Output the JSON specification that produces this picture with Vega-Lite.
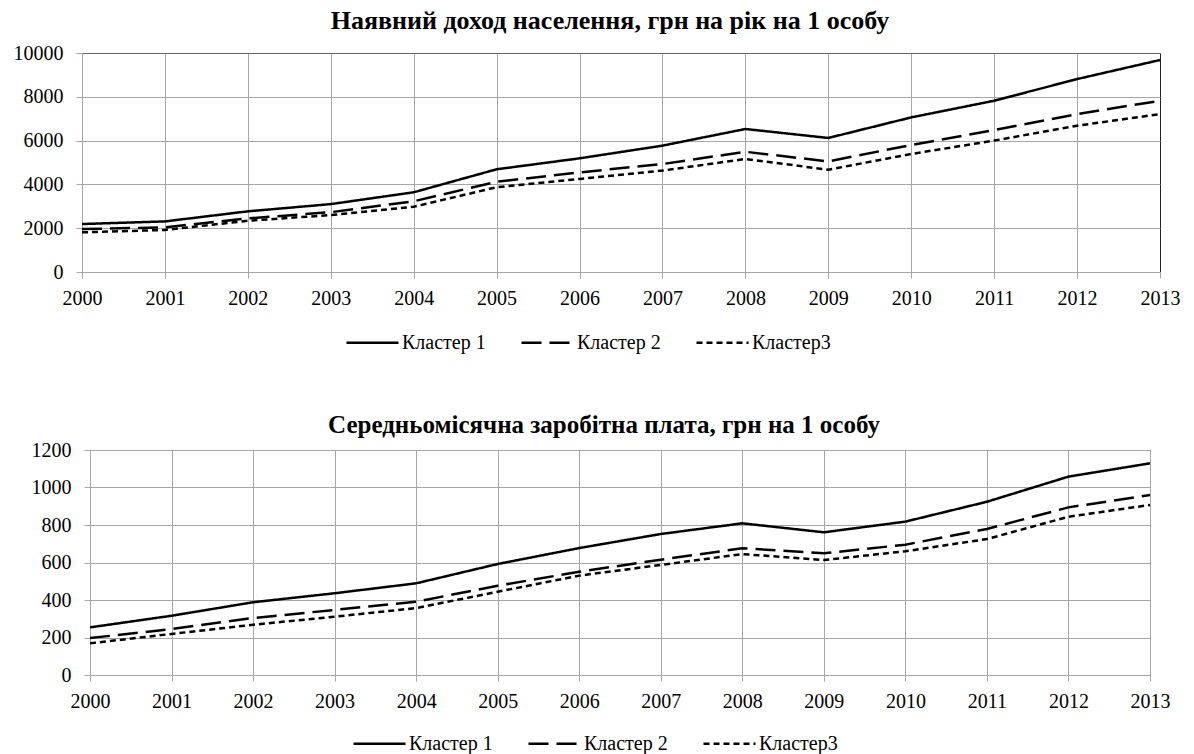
{
  "$schema": "https://vega.github.io/schema/vega-lite/v6.json",
  "background": "white",
  "padding": {"left": 12, "top": 8, "right": 10, "bottom": 0},
  "spacing": 59,
  "columns": 1,
  "align": "none",
  "bounds": "full",
  "resolve": {"scale": {"strokeDash": "independent"}, "legend": {"strokeDash": "independent"}},
  "config": {
    "font": "Liberation Serif",
    "view": {"stroke": "#555555", "strokeWidth": 1},
    "axis": {
      "labelFont": "Liberation Serif",
      "labelFontSize": 20,
      "labelColor": "#000000",
      "gridColor": "#a6a6a6",
      "gridWidth": 1,
      "gridOpacity": 1,
      "domainColor": "#a6a6a6",
      "tickColor": "#a6a6a6",
      "tickSize": 6,
      "title": null
    },
    "title": {"font": "Liberation Serif", "fontSize": 26, "fontWeight": "bold", "color": "#000000", "anchor": "middle"},
    "legend": {
      "labelFont": "Liberation Serif",
      "labelFontSize": 20,
      "labelColor": "#000000",
      "symbolType": "stroke",
      "symbolSize": 2704,
      "symbolStrokeWidth": 2.5,
      "symbolStrokeColor": "#000000",
      "labelOffset": 2,
      "columnPadding": 30,
      "title": null
    }
  },
  "datasets": {
    "income": [
      {"year": 2000, "cluster": "Кластер 1", "value": 2190},
      {"year": 2001, "cluster": "Кластер 1", "value": 2310},
      {"year": 2002, "cluster": "Кластер 1", "value": 2770},
      {"year": 2003, "cluster": "Кластер 1", "value": 3100},
      {"year": 2004, "cluster": "Кластер 1", "value": 3640},
      {"year": 2005, "cluster": "Кластер 1", "value": 4690},
      {"year": 2006, "cluster": "Кластер 1", "value": 5190},
      {"year": 2007, "cluster": "Кластер 1", "value": 5770},
      {"year": 2008, "cluster": "Кластер 1", "value": 6530},
      {"year": 2009, "cluster": "Кластер 1", "value": 6120},
      {"year": 2010, "cluster": "Кластер 1", "value": 7060},
      {"year": 2011, "cluster": "Кластер 1", "value": 7820},
      {"year": 2012, "cluster": "Кластер 1", "value": 8810},
      {"year": 2013, "cluster": "Кластер 1", "value": 9680},
      {"year": 2000, "cluster": "Кластер 2", "value": 1960},
      {"year": 2001, "cluster": "Кластер 2", "value": 2040},
      {"year": 2002, "cluster": "Кластер 2", "value": 2450},
      {"year": 2003, "cluster": "Кластер 2", "value": 2730},
      {"year": 2004, "cluster": "Кластер 2", "value": 3230},
      {"year": 2005, "cluster": "Кластер 2", "value": 4120},
      {"year": 2006, "cluster": "Кластер 2", "value": 4550},
      {"year": 2007, "cluster": "Кластер 2", "value": 4930},
      {"year": 2008, "cluster": "Кластер 2", "value": 5490},
      {"year": 2009, "cluster": "Кластер 2", "value": 5050},
      {"year": 2010, "cluster": "Кластер 2", "value": 5800},
      {"year": 2011, "cluster": "Кластер 2", "value": 6480},
      {"year": 2012, "cluster": "Кластер 2", "value": 7210},
      {"year": 2013, "cluster": "Кластер 2", "value": 7820},
      {"year": 2000, "cluster": "Кластер3", "value": 1810},
      {"year": 2001, "cluster": "Кластер3", "value": 1920},
      {"year": 2002, "cluster": "Кластер3", "value": 2340},
      {"year": 2003, "cluster": "Кластер3", "value": 2600},
      {"year": 2004, "cluster": "Кластер3", "value": 2980},
      {"year": 2005, "cluster": "Кластер3", "value": 3870},
      {"year": 2006, "cluster": "Кластер3", "value": 4250},
      {"year": 2007, "cluster": "Кластер3", "value": 4630},
      {"year": 2008, "cluster": "Кластер3", "value": 5160},
      {"year": 2009, "cluster": "Кластер3", "value": 4670},
      {"year": 2010, "cluster": "Кластер3", "value": 5390},
      {"year": 2011, "cluster": "Кластер3", "value": 6000},
      {"year": 2012, "cluster": "Кластер3", "value": 6680},
      {"year": 2013, "cluster": "Кластер3", "value": 7210}
    ],
    "wage": [
      {"year": 2000, "cluster": "Кластер 1", "value": 254},
      {"year": 2001, "cluster": "Кластер 1", "value": 316},
      {"year": 2002, "cluster": "Кластер 1", "value": 388},
      {"year": 2003, "cluster": "Кластер 1", "value": 436},
      {"year": 2004, "cluster": "Кластер 1", "value": 489},
      {"year": 2005, "cluster": "Кластер 1", "value": 592},
      {"year": 2006, "cluster": "Кластер 1", "value": 677},
      {"year": 2007, "cluster": "Кластер 1", "value": 752},
      {"year": 2008, "cluster": "Кластер 1", "value": 809},
      {"year": 2009, "cluster": "Кластер 1", "value": 761},
      {"year": 2010, "cluster": "Кластер 1", "value": 818},
      {"year": 2011, "cluster": "Кластер 1", "value": 924},
      {"year": 2012, "cluster": "Кластер 1", "value": 1058},
      {"year": 2013, "cluster": "Кластер 1", "value": 1129},
      {"year": 2000, "cluster": "Кластер 2", "value": 197},
      {"year": 2001, "cluster": "Кластер 2", "value": 245},
      {"year": 2002, "cluster": "Кластер 2", "value": 304},
      {"year": 2003, "cluster": "Кластер 2", "value": 347},
      {"year": 2004, "cluster": "Кластер 2", "value": 391},
      {"year": 2005, "cluster": "Кластер 2", "value": 476},
      {"year": 2006, "cluster": "Кластер 2", "value": 551},
      {"year": 2007, "cluster": "Кластер 2", "value": 615},
      {"year": 2008, "cluster": "Кластер 2", "value": 676},
      {"year": 2009, "cluster": "Кластер 2", "value": 649},
      {"year": 2010, "cluster": "Кластер 2", "value": 695},
      {"year": 2011, "cluster": "Кластер 2", "value": 779},
      {"year": 2012, "cluster": "Кластер 2", "value": 894},
      {"year": 2013, "cluster": "Кластер 2", "value": 960},
      {"year": 2000, "cluster": "Кластер3", "value": 169},
      {"year": 2001, "cluster": "Кластер3", "value": 219},
      {"year": 2002, "cluster": "Кластер3", "value": 268},
      {"year": 2003, "cluster": "Кластер3", "value": 311},
      {"year": 2004, "cluster": "Кластер3", "value": 357},
      {"year": 2005, "cluster": "Кластер3", "value": 444},
      {"year": 2006, "cluster": "Кластер3", "value": 530},
      {"year": 2007, "cluster": "Кластер3", "value": 587},
      {"year": 2008, "cluster": "Кластер3", "value": 645},
      {"year": 2009, "cluster": "Кластер3", "value": 613},
      {"year": 2010, "cluster": "Кластер3", "value": 660},
      {"year": 2011, "cluster": "Кластер3", "value": 725},
      {"year": 2012, "cluster": "Кластер3", "value": 844},
      {"year": 2013, "cluster": "Кластер3", "value": 907}
    ]
  },
  "concat": [
    {
      "title": {"text": "Наявний доход населення, грн на рік на 1 особу", "offset": 9, "dx": -15},
      "width": 1070,
      "height": 219,
      "view": {"stroke": null},
      "data": {"name": "income"},
      "mark": {"type": "line", "color": "#000000", "strokeWidth": 2.5},
      "encoding": {
        "x": {"field": "year", "type": "quantitative",
              "scale": {"domain": [2000, 2013], "nice": false, "zero": false, "range": [-8, 1070]},
              "axis": {"values": [2000,2001,2002,2003,2004,2005,2006,2007,2008,2009,2010,2011,2012,2013], "format": "d", "labelPadding": 10, "labelFlush": false,
                       "gridColor": {"condition": {"test": "datum.value == 2013", "value": "#222222"}, "value": "#a6a6a6"}}},
        "y": {"field": "value", "type": "quantitative",
              "scale": {"domain": [0, 10000], "nice": false},
              "axis": {"values": [0,2000,4000,6000,8000,10000], "format": "d", "labelPadding": 13, "offset": 8, "minExtent": 70, "maxExtent": 70,
                       "gridColor": {"condition": {"test": "datum.value == 10000", "value": "#666666"}, "value": "#a6a6a6"}}},
        "strokeDash": {"field": "cluster", "type": "nominal",
              "scale": {"domain": ["Кластер 1", "Кластер 2", "Кластер3"], "range": [[1, 0], [20, 8], [6, 4]]},
              "legend": {"orient": "none", "direction": "horizontal", "legendX": 255, "legendY": 262}}
      }
    },
    {
      "title": {"text": "Середньомісячна заробітна  плата, грн на 1 особу", "offset": 2, "fontSize": 25, "dx": -16},
      "width": 1060,
      "height": 225,
      "data": {"name": "wage"},
      "mark": {"type": "line", "color": "#000000", "strokeWidth": 2.5},
      "encoding": {
        "x": {"field": "year", "type": "quantitative",
              "scale": {"domain": [2000, 2013], "nice": false, "zero": false},
              "axis": {"values": [2000,2001,2002,2003,2004,2005,2006,2007,2008,2009,2010,2011,2012,2013], "format": "d", "labelPadding": 10, "labelFlush": false}},
        "y": {"field": "value", "type": "quantitative",
              "scale": {"domain": [0, 1200], "nice": false},
              "axis": {"values": [0,200,400,600,800,1000,1200], "format": "d", "labelPadding": 13, "minExtent": 77, "maxExtent": 77}},
        "strokeDash": {"field": "cluster", "type": "nominal",
              "scale": {"domain": ["Кластер 1", "Кластер 2", "Кластер3"], "range": [[1, 0], [20, 8], [6, 4]]},
              "legend": {"orient": "none", "direction": "horizontal", "legendX": 262, "legendY": 266}}
      }
    }
  ]
}
